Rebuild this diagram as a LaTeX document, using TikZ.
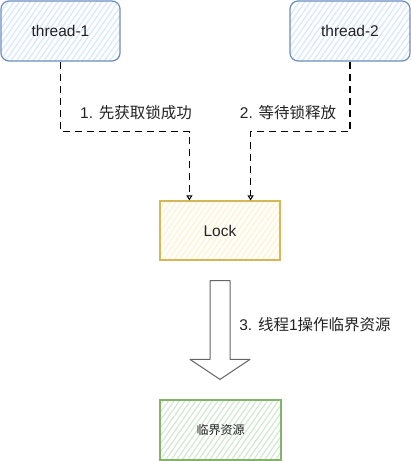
\documentclass[tikz,border=0pt]{standalone}
\usepackage{fontspec}
\setmainfont{Liberation Sans}
\newfontfamily\cjk{Noto Sans CJK SC}
\usetikzlibrary{patterns.meta,arrows.meta,calc}
\definecolor{bstroke}{HTML}{6C8EBF}
\definecolor{bfill}{HTML}{DAE8FC}
\definecolor{ystroke}{HTML}{D6B656}
\definecolor{yfill}{HTML}{FFF2CC}
\definecolor{gstroke}{HTML}{82B366}
\definecolor{gfill}{HTML}{D5E8D4}
\definecolor{txt}{HTML}{222222}
\definecolor{arrowgray}{HTML}{666666}
\begin{document}
\begin{tikzpicture}[x=1pt,y=-1pt,
  box/.style={draw, line width=1.2pt, inner sep=0pt, minimum width=120pt, minimum height=60pt,
    text=txt, font=\fontsize{15.5}{18}\selectfont},
  hatch/.style={pattern={Lines[angle=55,distance=4.5pt,line width=1.3pt]}, pattern color=#1},
  conn/.style={draw=black, line width=1.5pt, dash pattern=on 7pt off 5pt, -{Triangle[open,length=5pt,width=6pt,line width=1pt]}},
  lbl/.style={text=txt, inner sep=1pt, font=\fontsize{15.5}{18}\selectfont}]
\useasboundingbox (0,0) rectangle (411,461);
\node[box, draw=bstroke, hatch=bfill, rounded corners=8pt, minimum width=119pt] (t1) at (60.5,31) {thread-1};
\node[box, draw=bstroke, hatch=bfill, rounded corners=8pt] (t2) at (350,31) {thread-2};
\node[box, draw=ystroke, hatch=yfill, minimum height=59pt] (lock) at (220,230.5) {Lock};
\node[box, draw=gstroke, hatch=gfill, minimum width=121pt, font=\fontsize{12}{14}\selectfont] (res) at (220.5,430) {\cjk 临界资源};
\coordinate (in1) at ($(lock.north west)+(30,0)$);
\coordinate (in2) at ($(lock.north east)+(-30,0)$);
\draw[conn] (t1.south) -- ++(0,70) -| (in1);
\draw[conn] (t2.south) -- ++(0,70) -| (in2);
\node[lbl] (l1) at (136,113) {1. {\cjk 先获取锁成功}};
\node[lbl] (l2) at (288,113) {2. {\cjk 等待锁释放}};
\node[lbl] (l3) at (315,325) {3. {\cjk 线程}1{\cjk 操作临界资源}};
\coordinate (a0) at ($(lock.south)+(0,20)$);
\coordinate (a1) at ($(res.north)+(-0.5,-20)$);
\filldraw[draw=arrowgray, line width=1pt, fill=white, line join=round]
  ($(a0)+(-10,0)$) -- ($(a0)+(10,0)$) -- ($(a1)+(10,-20)$) -- ($(a1)+(30,-20)$) -- (a1)
  -- ($(a1)+(-30,-20)$) -- ($(a1)+(-10,-20)$) -- cycle;
\end{tikzpicture}
\end{document}
